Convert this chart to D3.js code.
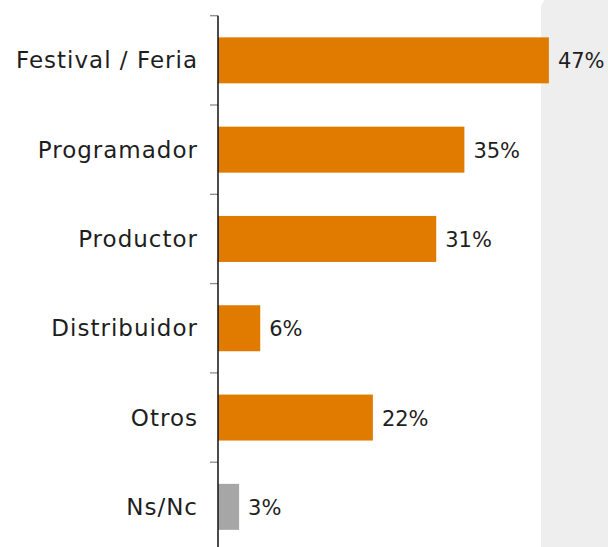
<!DOCTYPE html>
<html>
<head>
<meta charset="utf-8">
<script src="https://cdn.jsdelivr.net/npm/d3@7"></script>
<style>
  html, body { margin: 0; padding: 0; background: #fff; }
  svg { display: block; }
  text { font-family: "DejaVu Sans", sans-serif; fill: #1e1e1e; }
</style>
</head>
<body>
<svg id="chart" width="608" height="547"></svg>
<script>
// chart data
var categories = ["Festival / Feria", "Programador", "Productor", "Distribuidor", "Otros", "Ns/Nc"];
var values = [0.47, 0.35, 0.31, 0.06, 0.22, 0.03];
var valueLabels = ["47%", "35%", "31%", "6%", "22%", "3%"];
var barColors = ["#e07b00", "#e07b00", "#e07b00", "#e07b00", "#e07b00", "#a6a6a6"];

var svg = d3.select("#chart"),
    width = +svg.attr("width"),
    height = +svg.attr("height");

var axisX = 218;

var x = d3.scaleLinear()
    .domain([0, 0.5])
    .range([axisX, axisX + 352]);

var y = d3.scaleBand()
    .domain(categories)
    .range([15.7, 551.5])
    .paddingInner(0.485)
    .paddingOuter(0.2425);

// grey panel on the right
svg.append("rect")
    .attr("x", 541)
    .attr("y", -2)
    .attr("width", 100)
    .attr("height", height + 60)
    .attr("rx", 10)
    .attr("fill", "#eeeeee");

var rows = categories.map(function(c, i) {
    return {cat: c, value: values[i], label: valueLabels[i], color: barColors[i]};
});

svg.append("g")
    .selectAll("rect")
    .data(rows)
    .enter().append("rect")
    .attr("x", x(0))
    .attr("y", function(d) { return y(d.cat); })
    .attr("width", function(d) { return x(d.value) - x(0); })
    .attr("height", y.bandwidth())
    .attr("fill", function(d) { return d.color; });

// ticks at band boundaries
var gap = y.step() * y.paddingInner() / 2;
svg.append("g")
    .selectAll("line")
    .data(categories)
    .enter().append("line")
    .attr("x1", axisX - 8)
    .attr("x2", axisX)
    .attr("y1", function(d) { return y(d) - gap; })
    .attr("y2", function(d) { return y(d) - gap; })
    .attr("stroke", "#8c8c8c")
    .attr("stroke-width", 1.3);

svg.append("line")
    .attr("x1", axisX)
    .attr("x2", axisX)
    .attr("y1", y(categories[0]) - gap)
    .attr("y2", height)
    .attr("stroke", "#111")
    .attr("stroke-width", 1.5);

// category labels
svg.append("g")
    .selectAll("text")
    .data(rows)
    .enter().append("text")
    .attr("x", 198)
    .attr("y", function(d) { return y(d.cat) + y.bandwidth() / 2 + 8; })
    .attr("text-anchor", "end")
    .style("font-size", "23px")
    .style("letter-spacing", "1px")
    .text(function(d) { return d.cat; });

// value labels
svg.append("g")
    .selectAll("text")
    .data(rows)
    .enter().append("text")
    .attr("x", function(d) { return x(d.value) + 9; })
    .attr("y", function(d) { return y(d.cat) + y.bandwidth() / 2 + 8; })
    .style("font-size", "21px")
    .text(function(d) { return d.label; });
</script>
</body>
</html>
